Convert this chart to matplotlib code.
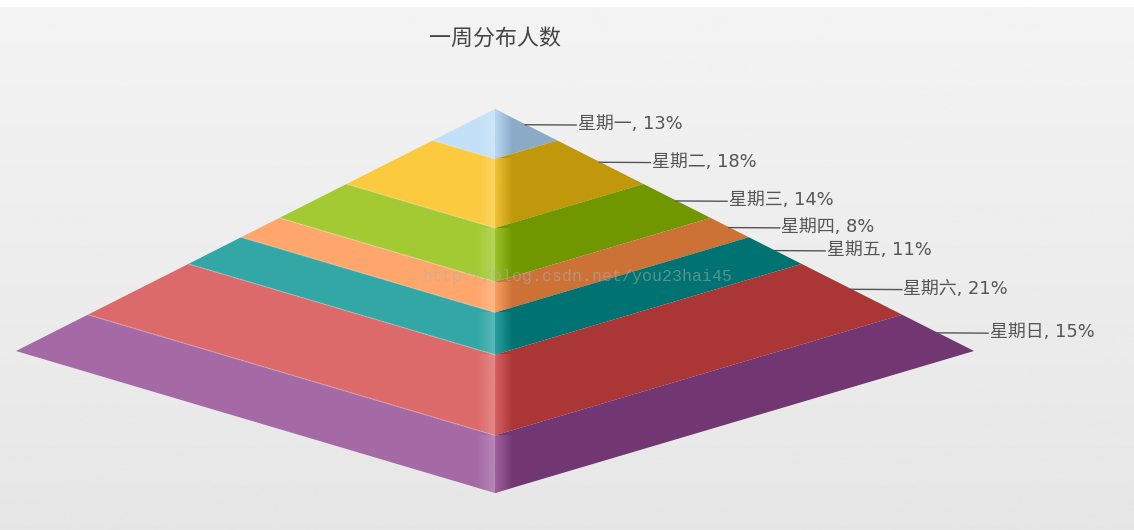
import matplotlib
matplotlib.use("Agg")
import matplotlib.pyplot as plt
from matplotlib.colors import to_rgb
from matplotlib.patches import Polygon
import numpy as np

plt.rcParams['font.family'] = ['DejaVu Sans', 'Noto Sans CJK SC']

title = "一周分布人数"
days = ["星期一", "星期二", "星期三", "星期四", "星期五", "星期六", "星期日"]
shares = [13, 18, 14, 8, 11, 21, 15]
left_colors = ["#c2e0f8", "#fbca3e", "#a4ca33", "#ffa66c", "#33a6a6", "#dd6a6a", "#a56aa5"]
right_colors = ["#8aaac8", "#c1970b", "#709600", "#cc7236", "#007272", "#aa3636", "#723672"]

# pyramid frame in pixels
cx, top = 495, 109
half_w = 479
side_h = 242
front_h = 384


def gradient(rgb, alpha_from, alpha_to):
    img = np.ones((1, 64, 4))
    img[..., :3] = rgb
    img[..., 3] = np.linspace(alpha_from, alpha_to, 64)
    return img


fig = plt.figure(figsize=(11.34, 5.3), dpi=100)
ax = fig.add_axes([0, 0, 1, 1])
ax.axis("off")

# background
bg = np.linspace(0xf3, 0xe6, 256).reshape(-1, 1) / 255
ax.imshow(bg, cmap="gray", vmin=0, vmax=1, extent=(0, 1134, 530, 7), aspect="auto", zorder=0)

done = 0
for day, share, lc, rc in zip(days, shares, left_colors, right_colors):
    f0 = done / 100
    f1 = (done + share) / 100
    done += share

    left = [(cx - f0 * half_w, top + f0 * side_h), (cx, top + f0 * front_h),
            (cx, top + f1 * front_h), (cx - f1 * half_w, top + f1 * side_h)]
    right = [(cx + f0 * half_w, top + f0 * side_h), (cx, top + f0 * front_h),
             (cx, top + f1 * front_h), (cx + f1 * half_w, top + f1 * side_h)]
    lp = Polygon(left, closed=True, fc=lc, ec="none", zorder=2)
    rp = Polygon(right, closed=True, fc=rc, ec="none", zorder=2)
    ax.add_patch(lp)
    ax.add_patch(rp)

    # shine along the front edge
    y0, y1 = top + f0 * front_h, top + f1 * front_h
    im = ax.imshow(gradient((1, 1, 1), 0, 0.2), extent=(cx - 18, cx, y1, y0),
                   aspect="auto", interpolation="bilinear", zorder=3)
    im.set_clip_path(lp)
    im = ax.imshow(gradient(to_rgb(lc), 0.85, 0), extent=(cx, cx + 18, y1, y0),
                   aspect="auto", interpolation="bilinear", zorder=3)
    im.set_clip_path(rp)

    # soft line on the top of each left face
    if f0 > 0:
        ax.plot([left[0][0], left[1][0]], [left[0][1], left[1][1]], color="white",
                alpha=0.2, lw=1, zorder=4)

    # connector and label
    mid = (f0 + f1) / 2
    px, py = cx + mid * half_w, top + mid * side_h
    ax.plot([px - 1, px + 50], [py, py + 0.3], color="#555555", lw=1, zorder=5)
    ax.text(px + 51.5, py - 0.5, f"{day}, {share}%", fontsize=12.9, color="#555555",
            ha="left", va="center", zorder=6)

ax.text(495.5, 38, title, fontsize=15.8, color="#444444", ha="center", va="center", zorder=6)
ax.text(422, 276, "http://blog.csdn.net/you23hai45", fontsize=12, family="Liberation Mono",
        color="#b0b0b0", alpha=0.5, ha="left", va="center", zorder=6)

ax.set_xlim(0, 1134)
ax.set_ylim(530, 0)
fig.savefig("out.png", dpi=100, facecolor="white")
